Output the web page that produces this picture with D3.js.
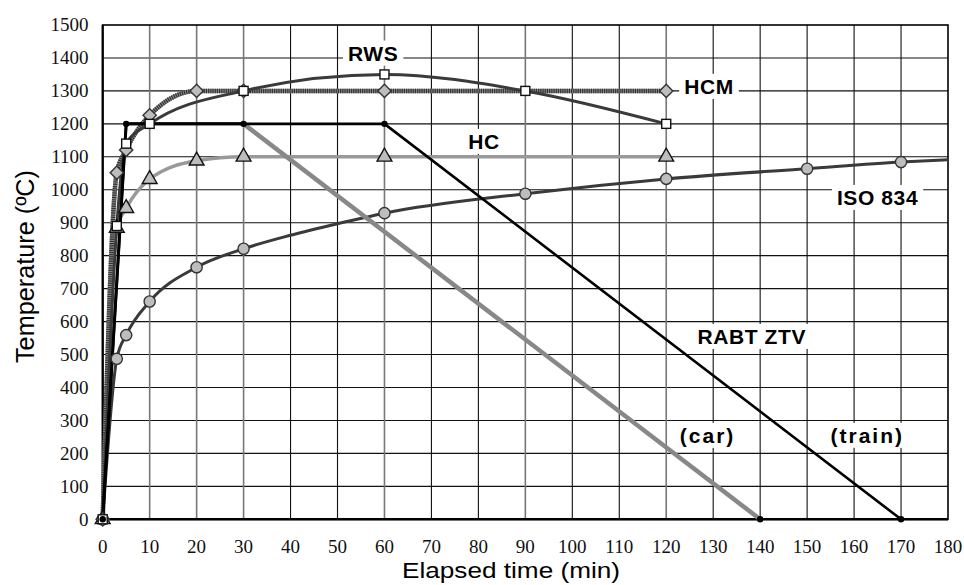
<!DOCTYPE html>
<html>
<head>
<meta charset="utf-8">
<script src="https://cdn.jsdelivr.net/npm/d3@7"></script>
<style>
  body { margin: 0; background: #fff; }
</style>
</head>
<body>
<svg width="964" height="585"></svg>
<script>
const xTicks = [0, 10, 20, 30, 40, 50, 60, 70, 80, 90, 100, 110, 120, 130, 140, 150, 160, 170, 180];
const yTicks = [0, 100, 200, 300, 400, 500, 600, 700, 800, 900, 1000, 1100, 1200, 1300, 1400, 1500];

// ISO 834 (circles), last point is line only
const isoTime = [0, 3, 5, 10, 20, 30, 40, 50, 60, 90, 120, 150, 170, 180];
const isoTemp = [0, 487, 559, 661, 765, 821, 862, 897, 929, 988, 1033, 1064, 1084, 1091];
const isoMarks = [0, 3, 5, 10, 20, 30, 60, 90, 120, 150, 170];

// HC (triangles)
const hcTime = [0, 3, 5, 10, 20, 30, 60, 120];
const hcTemp = [0, 884, 944, 1032, 1088, 1100, 1100, 1100];

// HCM (diamonds)
const hcmTime = [0, 3, 5, 10, 20, 30, 60, 120];
const hcmTemp = [0, 1052, 1121, 1226, 1300, 1300, 1300, 1300];

// RWS (squares)
const rwsTime = [0, 3, 5, 10, 30, 60, 90, 120];
const rwsTemp = [0, 890, 1140, 1200, 1300, 1350, 1300, 1200];

// RABT ZTV
const trainTime = [0, 5, 60, 170];
const trainTemp = [0, 1200, 1200, 0];
const carTime = [0, 5, 30, 140];
const carTemp = [0, 1200, 1200, 0];
const rabtDotTime = [0, 5, 30, 60, 140, 170];
const rabtDotTemp = [0, 1200, 1200, 1200, 0, 0];

// annotations: text, centre time, baseline temperature
const noteText = ["RWS", "HCM", "HC", "ISO 834", "RABT ZTV", "(car)", "(train)"];
const noteTime = [57.6, 129.1, 81.2, 165, 138.2, 128.8, 162.8];
const noteTemp = [1392, 1291, 1124, 954, 532, 232, 232];

// grid lines drawn lighter in the original
const lightGrid = [10, 20, 30, 60, 90, 120];

const serif = "'Liberation Serif', 'DejaVu Serif', 'Times New Roman', serif";
const sans = "'Liberation Sans', Arial, 'DejaVu Sans', sans-serif";

const svg = d3.select("svg");
const margin = { top: 25, right: 16, bottom: 65.7, left: 102.7 };
const W = +svg.attr("width"), H = +svg.attr("height");

const x = d3.scaleLinear().domain([0, 180]).range([margin.left, W - margin.right]);
const y = d3.scaleLinear().domain([0, 1500]).range([H - margin.bottom, margin.top]);

const zip = (ts, vs) => ts.map((t, i) => ({ t, v: vs[i] }));

// grid
const grid = svg.append("g");
grid.selectAll(".gy")
  .data(yTicks.slice(1, -1))
  .enter().append("line")
    .attr("x1", x(0)).attr("x2", x(180))
    .attr("y1", d => y(d)).attr("y2", d => y(d))
    .attr("stroke", "#111").attr("stroke-width", 1.1);
grid.selectAll(".gx")
  .data(xTicks.slice(1, -1))
  .enter().append("line")
    .attr("y1", y(0)).attr("y2", y(1500))
    .attr("x1", d => x(d)).attr("x2", d => x(d))
    .attr("stroke", d => lightGrid.includes(d) ? "#777" : "#111")
    .attr("stroke-width", d => lightGrid.includes(d) ? 1.6 : 1.1);

// frame
svg.append("rect")
  .attr("x", x(0)).attr("y", y(1500))
  .attr("width", x(180) - x(0)).attr("height", y(0) - y(1500))
  .attr("fill", "none").attr("stroke", "#000").attr("stroke-width", 1.6);
svg.append("line")
  .attr("x1", x(0)).attr("x2", x(180)).attr("y1", y(0)).attr("y2", y(0))
  .attr("stroke", "#000").attr("stroke-width", 2.6);
svg.append("line")
  .attr("x1", x(0)).attr("x2", x(0)).attr("y1", y(0)).attr("y2", y(1500))
  .attr("stroke", "#000").attr("stroke-width", 2.2);

// tick labels
svg.append("g")
    .attr("font-family", serif).attr("font-size", 19).attr("fill", "#111")
  .selectAll("text")
  .data(yTicks)
  .enter().append("text")
    .attr("x", 88.5)
    .attr("y", d => y(d) + 6.4)
    .attr("text-anchor", "end")
    .text(d => d);
svg.append("g")
    .attr("font-family", serif).attr("font-size", 19).attr("fill", "#111")
  .selectAll("text")
  .data(xTicks)
  .enter().append("text")
    .attr("x", d => x(d))
    .attr("y", 552.7)
    .attr("text-anchor", "middle")
    .text(d => d);

// axis titles
svg.append("text")
  .attr("font-family", sans)
  .attr("transform", "translate(33.5, 266.5) rotate(-90)")
  .attr("text-anchor", "middle")
  .attr("font-size", 26)
  .attr("textLength", 193)
  .attr("lengthAdjust", "spacingAndGlyphs")
  .text("Temperature (ºC)");
svg.append("text")
  .attr("font-family", sans)
  .attr("x", 511).attr("y", 578.3)
  .attr("text-anchor", "middle")
  .attr("font-size", 22)
  .attr("textLength", 218)
  .attr("lengthAdjust", "spacingAndGlyphs")
  .text("Elapsed time (min)");

// annotations with white boxes (behind curves)
const notes = svg.append("g");
noteText.forEach((txt, i) => {
  const g = notes.append("g");
  const t = g.append("text")
    .attr("font-family", sans)
    .attr("font-weight", "bold")
    .attr("font-size", 21)
    .attr("letter-spacing", txt.startsWith("(") ? "2px" : "0.6px")
    .attr("x", x(noteTime[i]))
    .attr("y", y(noteTemp[i]))
    .attr("text-anchor", "middle")
    .text(txt);
  const b = t.node().getBBox();
  g.insert("rect", "text")
    .attr("x", b.x - 5).attr("y", b.y - 1)
    .attr("width", b.width + 10).attr("height", b.height + 2)
    .attr("fill", "#fff");
});

// lines
const line = d3.line().x(d => x(d.t)).y(d => y(d.v));
const smooth = d3.line().x(d => x(d.t)).y(d => y(d.v)).curve(d3.curveMonotoneX);

const lines = svg.append("g").attr("fill", "none").attr("stroke-linejoin", "round");

lines.append("path").datum(zip(isoTime, isoTemp))
  .attr("d", smooth).attr("stroke", "#3a3a3a").attr("stroke-width", 3);
lines.append("path").datum(zip(hcTime, hcTemp))
  .attr("d", smooth).attr("stroke", "#999").attr("stroke-width", 3.5);
lines.append("path").datum(zip(hcmTime, hcmTemp))
  .attr("d", smooth).attr("stroke", "#8a8a8a").attr("stroke-width", 4.5);
lines.append("path").datum(zip(hcmTime, hcmTemp))
  .attr("d", smooth).attr("stroke", "#333").attr("stroke-width", 4.5)
  .attr("stroke-dasharray", "1.2 1");
lines.append("path").datum(zip(rwsTime, rwsTemp))
  .attr("d", smooth).attr("stroke", "#3a3a3a").attr("stroke-width", 3);
lines.append("path").datum(zip(carTime, carTemp).slice(2))
  .attr("d", line).attr("stroke", "#888").attr("stroke-width", 4.5);
lines.append("path").datum(zip(carTime, carTemp).slice(0, 3))
  .attr("d", line).attr("stroke", "#000").attr("stroke-width", 3);
lines.append("path").datum(zip(trainTime, trainTemp))
  .attr("d", line).attr("stroke", "#000").attr("stroke-width", 2.6);

// markers
const marks = svg.append("g");
const isoPts = zip(isoTime, isoTemp).filter(d => isoMarks.includes(d.t));
marks.selectAll(".iso").data(isoPts).enter().append("circle")
  .attr("cx", d => x(d.t)).attr("cy", d => y(d.v)).attr("r", 5.6)
  .attr("fill", "#bdbdbd").attr("stroke", "#333").attr("stroke-width", 1.4);

const tri = d3.symbol().type(d3.symbolTriangle).size(95);
marks.selectAll(".hc").data(zip(hcTime, hcTemp)).enter().append("path")
  .attr("d", tri)
  .attr("transform", d => `translate(${x(d.t)},${y(d.v)})`)
  .attr("fill", "#bdbdbd").attr("stroke", "#111").attr("stroke-width", 1.4);

const dia = d3.symbol().type(d3.symbolSquare).size(88);
marks.selectAll(".hcm").data(zip(hcmTime, hcmTemp)).enter().append("path")
  .attr("d", dia)
  .attr("transform", d => `translate(${x(d.t)},${y(d.v)}) rotate(45)`)
  .attr("fill", "#bdbdbd").attr("stroke", "#333").attr("stroke-width", 1.4);

marks.selectAll(".rws").data(zip(rwsTime, rwsTemp)).enter().append("rect")
  .attr("x", d => x(d.t) - 4.5).attr("y", d => y(d.v) - 4.5)
  .attr("width", 9).attr("height", 9)
  .attr("fill", "#fff").attr("stroke", "#111").attr("stroke-width", 1.4);

marks.selectAll(".rabt").data(zip(rabtDotTime, rabtDotTemp)).enter().append("circle")
  .attr("cx", d => x(d.t)).attr("cy", d => y(d.v)).attr("r", 3.2)
  .attr("fill", "#000");
</script>
</body>
</html>
